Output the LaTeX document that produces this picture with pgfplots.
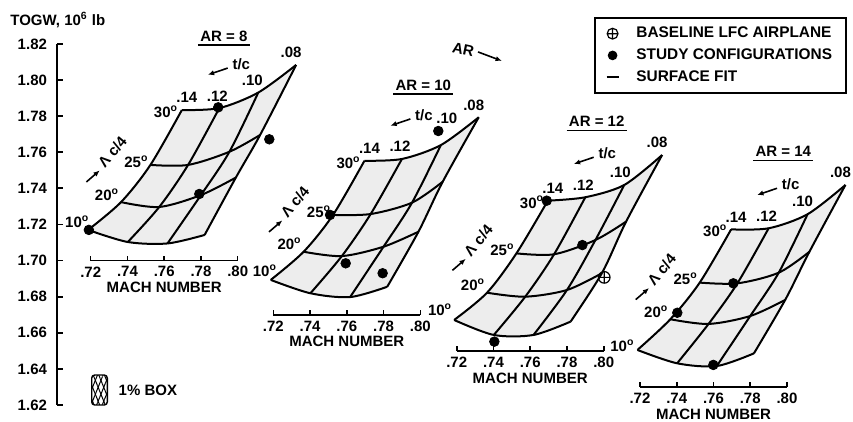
\documentclass[border=0pt]{standalone}
\usepackage{fontspec}
\setmainfont{Liberation Sans}
\usepackage{pgfplots}
\pgfplotsset{compat=1.18}
\usetikzlibrary{arrows.meta,patterns.meta}

\newcommand{\lbl}{\fontsize{7.5}{9}\selectfont\bfseries}
\newcommand{\dg}{\textsuperscript{o}}

% labels around one carpet: T of the 30 deg row (.14 .12 .10 .08), then T of .14 at 25, 20, 10 deg,
% then the shift of the .10 label and of the 10 deg label
\newcommand{\carpetlabels}[9]{%
  \node[font=\lbl, anchor=east, inner sep=0pt, xshift=-1.7pt, yshift=-0.8pt] at (axis cs:0.7696,#1) {30\dg};
  \node[font=\lbl, anchor=east, inner sep=0pt, xshift=-0.8pt, yshift=1.7pt] at (axis cs:0.7525,#5) {25\dg};
  \node[font=\lbl, anchor=east, inner sep=0pt, xshift=-0.8pt, yshift=3.8pt] at (axis cs:0.7365,#6) {20\dg};
  \node[font=\lbl, anchor=east, inner sep=0pt, shift={#9}] at (axis cs:0.7186,#7) {10\dg};
  \node[font=\lbl, anchor=south, xshift=2.5pt] at (axis cs:0.7696,#1) {.14};
  \node[font=\lbl, anchor=south, xshift=-1pt] at (axis cs:0.7900,#2) {.12};
  \node[font=\lbl, anchor=south, shift={#8}] at (axis cs:0.8112,#3) {.10};
  \node[font=\lbl, anchor=south, xshift=-2.5pt] at (axis cs:0.8318,#4) {.08};
  \draw[line width=0.8pt, -{Latex[length=3.2pt,width=2.6pt]}] ([shift={(4.2pt,20pt)}]axis cs:0.7900,#2) -- ++(-10pt,-3.4pt);
  \node[font=\lbl] at ([shift={(11pt,22pt)}]axis cs:0.7900,#2) {t/c};
  \draw[line width=0.8pt, -{Latex[length=3.2pt,width=2.6pt]}] ([shift={(-32pt,-8.5pt)}]axis cs:0.7525,#5) -- ++(6.7pt,5.8pt);
  \node[font=\lbl, rotate=50, inner sep=0pt] at ([shift={(-19pt,6.5pt)}]axis cs:0.7525,#5) {Λ c/4};
}

\pgfplotsset{
  carpet/.style={
    x=918.75pt, y=902.5pt, xmin=0.72, xmax=0.80,
    clip=false, anchor=south west,
    axis x line=bottom, axis y line=none,
    x axis line style={-, line width=0.8pt},
    xtick={0.72,0.74,0.76,0.78,0.80},
    xticklabels={.72,.74,.76,.78,.80},
    tick align=inside, major tick length=2.5pt,
    tick style={line width=0.8pt, black},
    xticklabel style={font=\lbl, anchor=center, yshift=-5.6pt},
    xlabel={MACH NUMBER},
    xlabel style={font=\lbl, at={(axis description cs:0.5,0)}, anchor=center, yshift=-13.5pt},
  },
  face/.style={fill=black!7, draw=none},
  cline/.style={black, line width=1pt, smooth, tension=0.5},
  study/.style={only marks, mark=*, mark size=2.4pt, black},
  base/.style={only marks, mark=oplus, mark size=2.9pt, black, mark options={line width=0.6pt, fill=white}},
}

\begin{document}
\begin{tikzpicture}
\path[use as bounding box] (0,0) rectangle (426.5pt,211pt);

% main TOGW scale, legend, 1% box
\begin{axis}[
    at={(28.5pt,8.5pt)}, anchor=south west,
    scale only axis, width=398pt, height=180.5pt,
    xmin=0, xmax=796, ymin=1.62, ymax=1.82,
    axis x line=none, axis y line=left,
    y axis line style={-, line width=0.9pt},
    ytick={1.62,1.64,1.66,1.68,1.70,1.72,1.74,1.76,1.78,1.80,1.82},
    yticklabels={1.62,1.64,1.66,1.68,1.70,1.72,1.74,1.76,1.78,1.80,1.82},
    tick align=inside, major tick length=3pt,
    tick style={line width=0.9pt, black},
    yticklabel style={font=\lbl, xshift=-1.5pt},
    clip=false,
    legend cell align=left,
    legend style={at={(axis description cs:0.6746,1.0748)}, anchor=north west,
        draw=black, line width=0.8pt, font=\fontsize{7.7}{9}\selectfont\bfseries,
        inner xsep=5pt, inner ysep=2.5pt, row sep=0pt},
]
\addplot[draw=black, line width=0.7pt, rounded corners=1.5pt,
    pattern={Lines[angle=68,distance=2.6pt,line width=0.5pt]}, forget plot]
    coordinates {(34.7,1.62) (50.3,1.62) (50.3,1.6366) (34.7,1.6366)} -- cycle;
\addplot[draw=none, pattern={Lines[angle=-68,distance=2.6pt,line width=0.5pt]}, forget plot]
    coordinates {(34.7,1.62) (50.3,1.62) (50.3,1.6366) (34.7,1.6366)} -- cycle;
\node[font=\lbl, anchor=west, inner sep=0pt] at (axis cs:61.3,1.6283) {1\% BOX};
\node[font=\lbl, anchor=base west, inner sep=0pt] at (axis cs:-47,1.8305) {TOGW, 10\textsuperscript{6} lb};
\node[font=\lbl, rotate=-12] at (axis cs:406.3,1.8167) {AR};
\draw[line width=0.8pt, -{Latex[length=3.2pt,width=2.6pt]}] (axis cs:421,1.8156) -- (axis cs:445,1.8106);

\addlegendimage{only marks, mark=oplus, mark size=2.7pt, mark options={line width=0.6pt, fill=white},
    legend image code/.code={\path (0pt,0pt) (13pt,0pt); \draw plot[only marks] coordinates {(3.5pt,0pt)};}}
\addlegendentry{BASELINE LFC AIRPLANE}
\addlegendimage{only marks, mark=*, mark size=2pt,
    legend image code/.code={\path (0pt,0pt) (13pt,0pt); \draw plot[only marks] coordinates {(3.5pt,0pt)};}}
\addlegendentry{STUDY CONFIGURATIONS}
\addlegendimage{legend image code/.code={\path (0pt,0pt) (13pt,0pt); \draw[line width=1pt] (0.5pt,0pt) -- (6.5pt,0pt);}}
\addlegendentry{SURFACE FIT}
\end{axis}

% AR = 8
\begin{axis}[carpet, at={(45.35pt,80.7pt)}, ymin=1.70, ymax=1.85]
\addplot[face] coordinates {(0.7186,1.7170) (0.7402,1.7103) (0.7618,1.7095) (0.7820,1.7142)
    (0.7990,1.7460) (0.8122,1.7696) (0.8318,1.8084) (0.8112,1.7931) (0.7900,1.7845) (0.7696,1.7834)
    (0.7525,1.7530) (0.7365,1.7324)} -- cycle;
\addplot[cline] coordinates {(0.7186,1.7170) (0.7402,1.7103) (0.7618,1.7095) (0.7820,1.7142)};
\addplot[cline] coordinates {(0.7365,1.7324) (0.7573,1.7297) (0.7800,1.7363) (0.7990,1.7460)};
\addplot[cline] coordinates {(0.7525,1.7530) (0.7730,1.7530) (0.7955,1.7603) (0.8122,1.7696)};
\addplot[cline] coordinates {(0.7696,1.7834) (0.7900,1.7845) (0.8112,1.7931) (0.8318,1.8084)};
\addplot[cline] coordinates {(0.7696,1.7834) (0.7525,1.7530) (0.7365,1.7324) (0.7186,1.7170)};
\addplot[cline] coordinates {(0.7900,1.7845) (0.7730,1.7530) (0.7573,1.7297) (0.7402,1.7103)};
\addplot[cline] coordinates {(0.8112,1.7931) (0.7955,1.7603) (0.7800,1.7363) (0.7618,1.7095)};
\addplot[cline] coordinates {(0.8318,1.8084) (0.8122,1.7696) (0.7990,1.7460) (0.7820,1.7142)};
\addplot[study] coordinates {(0.7190,1.7170) (0.7894,1.7849) (0.7791,1.7369) (0.8172,1.7672)};
\carpetlabels{1.7834}{1.7845}{1.7931}{1.8084}{1.7530}{1.7324}{1.7170}{(-3pt,0pt)}{(0.8pt,4.1pt)}
\node[font=\lbl, inner sep=1pt] (ar) at (axis cs:0.7925,1.8244) {AR = 8};
\draw[line width=0.7pt] ([yshift=-0.6pt]ar.south west) -- ([yshift=-0.6pt]ar.south east);
\end{axis}

% AR = 10
\begin{axis}[carpet, at={(136.65pt,53.625pt)}, ymin=1.67, ymax=1.82]
\addplot[face] coordinates {(0.7186,1.6893) (0.7402,1.6819) (0.7618,1.6798) (0.7820,1.6855)
    (0.7990,1.7160) (0.8122,1.7437) (0.8318,1.7794) (0.8112,1.7640) (0.7900,1.7563) (0.7696,1.7553)
    (0.7525,1.7253) (0.7365,1.7049)} -- cycle;
\addplot[cline] coordinates {(0.7186,1.6893) (0.7402,1.6819) (0.7618,1.6798) (0.7820,1.6855)};
\addplot[cline] coordinates {(0.7365,1.7049) (0.7573,1.7025) (0.7800,1.7077) (0.7990,1.7160)};
\addplot[cline] coordinates {(0.7525,1.7253) (0.7730,1.7258) (0.7955,1.7321) (0.8122,1.7437)};
\addplot[cline] coordinates {(0.7696,1.7553) (0.7900,1.7563) (0.8112,1.7640) (0.8318,1.7794)};
\addplot[cline] coordinates {(0.7696,1.7553) (0.7525,1.7253) (0.7365,1.7049) (0.7186,1.6893)};
\addplot[cline] coordinates {(0.7900,1.7563) (0.7730,1.7258) (0.7573,1.7025) (0.7402,1.6819)};
\addplot[cline] coordinates {(0.8112,1.7640) (0.7955,1.7321) (0.7800,1.7077) (0.7618,1.6798)};
\addplot[cline] coordinates {(0.8318,1.7794) (0.8122,1.7437) (0.7990,1.7160) (0.7820,1.6855)};
\addplot[study] coordinates {(0.7509,1.7253) (0.7594,1.6985) (0.7795,1.6930) (0.8098,1.7718)};
\carpetlabels{1.7553}{1.7563}{1.7640}{1.7794}{1.7253}{1.7049}{1.6893}{(3pt,7pt)}{(3.3pt,4.5pt)}
\node[font=\lbl, inner sep=1pt] (ar) at (axis cs:0.8016,1.7973) {AR = 10};
\draw[line width=0.7pt] ([yshift=-0.6pt]ar.south west) -- ([yshift=-0.6pt]ar.south east);
\end{axis}

% AR = 12
\begin{axis}[carpet, at={(228.35pt,35.575pt)}, ymin=1.65, ymax=1.80]
\addplot[face] coordinates {(0.7186,1.6671) (0.7402,1.6588) (0.7618,1.6588) (0.7820,1.6662)
    (0.7990,1.6930) (0.8122,1.7216) (0.8318,1.7585) (0.8112,1.7419) (0.7900,1.7351) (0.7696,1.7332)
    (0.7525,1.7040) (0.7365,1.6822)} -- cycle;
\addplot[cline] coordinates {(0.7186,1.6671) (0.7402,1.6588) (0.7618,1.6588) (0.7820,1.6662)};
\addplot[cline] coordinates {(0.7365,1.6822) (0.7573,1.6800) (0.7800,1.6837) (0.7990,1.6930)};
\addplot[cline] coordinates {(0.7525,1.7040) (0.7730,1.7035) (0.7955,1.7114) (0.8122,1.7216)};
\addplot[cline] coordinates {(0.7696,1.7332) (0.7900,1.7351) (0.8112,1.7419) (0.8318,1.7585)};
\addplot[cline] coordinates {(0.7696,1.7332) (0.7525,1.7040) (0.7365,1.6822) (0.7186,1.6671)};
\addplot[cline] coordinates {(0.7900,1.7351) (0.7730,1.7035) (0.7573,1.6800) (0.7402,1.6588)};
\addplot[cline] coordinates {(0.8112,1.7419) (0.7955,1.7114) (0.7800,1.6837) (0.7618,1.6588)};
\addplot[cline] coordinates {(0.8318,1.7585) (0.8122,1.7216) (0.7990,1.6930) (0.7820,1.6662)};
\addplot[study] coordinates {(0.7690,1.7332) (0.7884,1.7086) (0.7405,1.6551)};
\addplot[base] coordinates {(0.8003,1.6907)};
\carpetlabels{1.7332}{1.7351}{1.7419}{1.7585}{1.7040}{1.6822}{1.6671}{(-2pt,0pt)}{(-0.8pt,5pt)}
\node[font=\lbl, inner sep=1pt] (ar) at (axis cs:0.7962,1.7770) {AR = 12};
\draw[line width=0.7pt] ([yshift=-0.6pt]ar.south west) -- ([yshift=-0.6pt]ar.south east);
\end{axis}

% AR = 14
\begin{axis}[carpet, at={(320pt,17.525pt)}, ymin=1.63, ymax=1.78]
\addplot[face] coordinates {(0.7186,1.6505) (0.7402,1.6431) (0.7618,1.6416) (0.7820,1.6486)
    (0.7990,1.6782) (0.8122,1.7049) (0.8318,1.7419) (0.8112,1.7257) (0.7900,1.7179) (0.7696,1.7173)
    (0.7525,1.6878) (0.7365,1.6675)} -- cycle;
\addplot[cline] coordinates {(0.7186,1.6505) (0.7402,1.6431) (0.7618,1.6416) (0.7820,1.6486)};
\addplot[cline] coordinates {(0.7365,1.6675) (0.7573,1.6649) (0.7800,1.6693) (0.7990,1.6782)};
\addplot[cline] coordinates {(0.7525,1.6878) (0.7730,1.6874) (0.7955,1.6933) (0.8122,1.7049)};
\addplot[cline] coordinates {(0.7696,1.7173) (0.7900,1.7179) (0.8112,1.7257) (0.8318,1.7419)};
\addplot[cline] coordinates {(0.7696,1.7173) (0.7525,1.6878) (0.7365,1.6675) (0.7186,1.6505)};
\addplot[cline] coordinates {(0.7900,1.7179) (0.7730,1.6874) (0.7573,1.6649) (0.7402,1.6431)};
\addplot[cline] coordinates {(0.8112,1.7257) (0.7955,1.6933) (0.7800,1.6693) (0.7618,1.6416)};
\addplot[cline] coordinates {(0.8318,1.7419) (0.8122,1.7049) (0.7990,1.6782) (0.7820,1.6486)};
\addplot[study] coordinates {(0.7403,1.6711) (0.7708,1.6874) (0.7599,1.6422)};
\carpetlabels{1.7173}{1.7179}{1.7257}{1.7419}{1.6878}{1.6675}{1.6505}{(-2.5pt,0pt)}{(-1.3pt,2pt)}
\node[font=\lbl, inner sep=1pt] (ar) at (axis cs:0.7980,1.7603) {AR = 14};
\draw[line width=0.7pt] ([yshift=-0.6pt]ar.south west) -- ([yshift=-0.6pt]ar.south east);
\end{axis}
\end{tikzpicture}
\end{document}
